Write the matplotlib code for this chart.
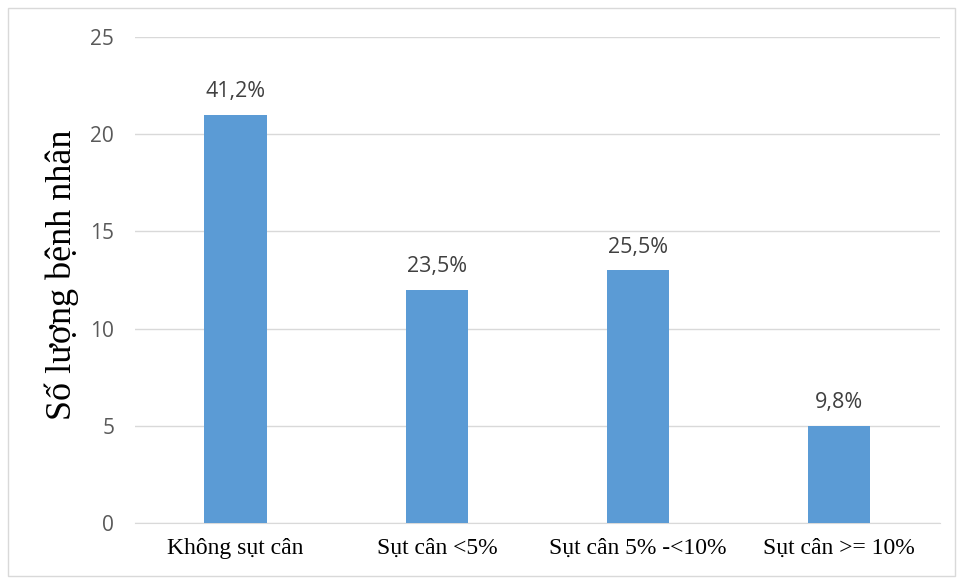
import matplotlib.pyplot as plt
from matplotlib.patches import Rectangle

categories = ["Không sụt cân", "Sụt cân <5%", "Sụt cân 5% -<10%", "Sụt cân >= 10%"]
counts = [21, 12, 13, 5]
pct_labels = ["41,2%", "23,5%", "25,5%", "9,8%"]
yticks = [0, 5, 10, 15, 20, 25]

fig = plt.figure(figsize=(9.61, 5.81), dpi=100)
ax = fig.add_axes([0.1405, 0.0998, 0.8375, 0.8365])

# outer chart border
fig.patches.append(Rectangle((8 / 961, 5 / 581), 947 / 961, 568 / 581, transform=fig.transFigure,
                             fill=False, edgecolor="#d9d9d9", linewidth=1))

x = range(len(categories))
bars = ax.bar(x, counts, width=0.31, color="#5b9bd5", zorder=3)

for b, lab in zip(bars, pct_labels):
    ax.annotate(lab, (b.get_x() + b.get_width() / 2, b.get_height()),
                xytext=(0, 9), textcoords="offset points", ha="center", va="bottom",
                fontsize=15.5, color="#404040", family="Open Sans")

ax.set_xlim(-0.5, len(categories) - 0.5)
ax.set_ylim(0, 25)
ax.set_yticks(yticks)
ax.set_yticklabels([str(v) for v in yticks], fontsize=15, color="#595959", family="Open Sans")
ax.set_xticks(list(x))
ax.set_xticklabels(categories, fontsize=17, color="black", family="Liberation Serif")
ax.tick_params(axis="both", length=0)
ax.tick_params(axis="y", pad=15)
ax.tick_params(axis="x", pad=11)

ax.grid(axis="y", color="#d9d9d9", linewidth=1, zorder=0)
for s in ["top", "right", "left"]:
    ax.spines[s].set_visible(False)
ax.spines["bottom"].set_color("#d9d9d9")

ax.set_ylabel("Số lượng bệnh nhân", fontsize=26, family="Liberation Serif")
ax.yaxis.set_label_coords(-0.07, 0.51)

fig.savefig("out.png", dpi=100)
